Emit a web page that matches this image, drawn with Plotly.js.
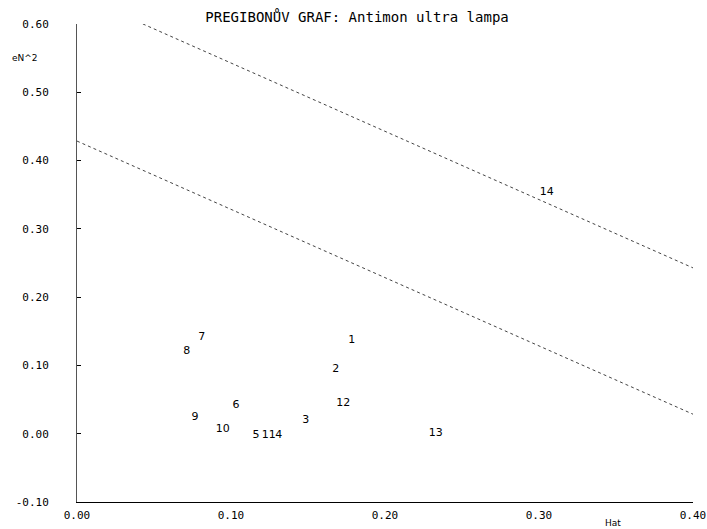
<!DOCTYPE html>
<html>
<head>
<meta charset="utf-8">
<script src="https://cdn.plot.ly/plotly-3.0.1.min.js"></script>
<style>html,body{margin:0;padding:0;background:#fff;}#chart{width:707px;height:529px;}</style>
</head>
<body>
<div id="chart"></div>
<script>
// Observation labels and their (Hat, eN^2) positions
const pointLabels = ["1","2","3","4","5","6","7","8","9","10","11","12","13","14"];
const hatValues   = [0.1784,0.1680,0.1485,0.1310,0.1162,0.1032,0.0810,0.0712,0.0766,0.0946,0.1245,0.1729,0.2329,0.3050];
const eN2Values   = [0.1376,0.0937,0.0195,-0.002,-0.002,0.0410,0.1416,0.1205,0.0245,0.0069,-0.002,0.0439,0.0000,0.3530];

// Pregibon critical lines: Hat + eN^2 = 2(m+1)/n and 3(m+1)/n
const nObs = 14, mPlus1 = 3;
const lowerLevel = 2 * mPlus1 / nObs;
const upperLevel = 3 * mPlus1 / nObs;
const lineX = [0, 0.40];
const lowerY = lineX.map(x => lowerLevel - x);
const upperY = lineX.map(x => upperLevel - x);

const xTicks = [0, 0.1, 0.2, 0.3, 0.4];
const xTickText = ["0.00","0.10","0.20","0.30","0.40"];
const yTicks = [-0.1, 0, 0.1, 0.2, 0.3, 0.4, 0.5, 0.6];
const yTickText = ["-0.10","0.00","0.10","0.20","0.30","0.40","0.50","0.60"];

const mono = "DejaVu Sans Mono, monospace";

const traces = [
  {x: lineX, y: upperY, mode: "lines", line: {color: "#444", width: 1, dash: "dot"}, hoverinfo: "skip"},
  {x: lineX, y: lowerY, mode: "lines", line: {color: "#444", width: 1, dash: "dot"}, hoverinfo: "skip"},
  {x: hatValues, y: eN2Values, mode: "text", text: pointLabels, textposition: "middle center",
   textfont: {family: "DejaVu Sans, sans-serif", size: 11, color: "#000"}, cliponaxis: false}
];

const layout = {
  width: 707, height: 529,
  margin: {l: 77, r: 14, t: 24, b: 27},
  paper_bgcolor: "#fff", plot_bgcolor: "#fff",
  showlegend: false,
  title: {text: "PREGIBONŮV GRAF: Antimon ultra lampa", font: {family: mono, size: 14, color: "#000"},
          x: 0.505, xanchor: "center", y: 0.968, yanchor: "middle"},
  xaxis: {range: [0, 0.40], tickvals: xTicks, ticktext: xTickText, showgrid: false, zeroline: false,
          showline: true, linecolor: "#000", linewidth: 1, ticks: "", ticklabelstandoff: 3,
          tickfont: {family: mono, size: 11, color: "#000"}},
  yaxis: {range: [-0.10, 0.60], tickvals: yTicks, ticktext: yTickText, showgrid: false, zeroline: false,
          showline: true, linecolor: "#555", linewidth: 1, ticks: "inside", ticklen: 4, tickcolor: "#000",
          ticklabelstandoff: 25,
          tickfont: {family: mono, size: 11, color: "#000"}},
  annotations: [
    {text: "eN^2", xref: "paper", yref: "paper", x: -0.109, y: 0.929, xanchor: "left", yanchor: "middle",
     showarrow: false, font: {family: "DejaVu Sans, sans-serif", size: 9, color: "#000"}},
    {text: "Hat", xref: "paper", yref: "paper", x: 0.87, y: -0.043, xanchor: "center", yanchor: "middle",
     showarrow: false, font: {family: "DejaVu Sans, sans-serif", size: 9, color: "#000"}}
  ]
};

Plotly.newPlot("chart", traces, layout, {displayModeBar: false, staticPlot: true});
</script>
</body>
</html>
